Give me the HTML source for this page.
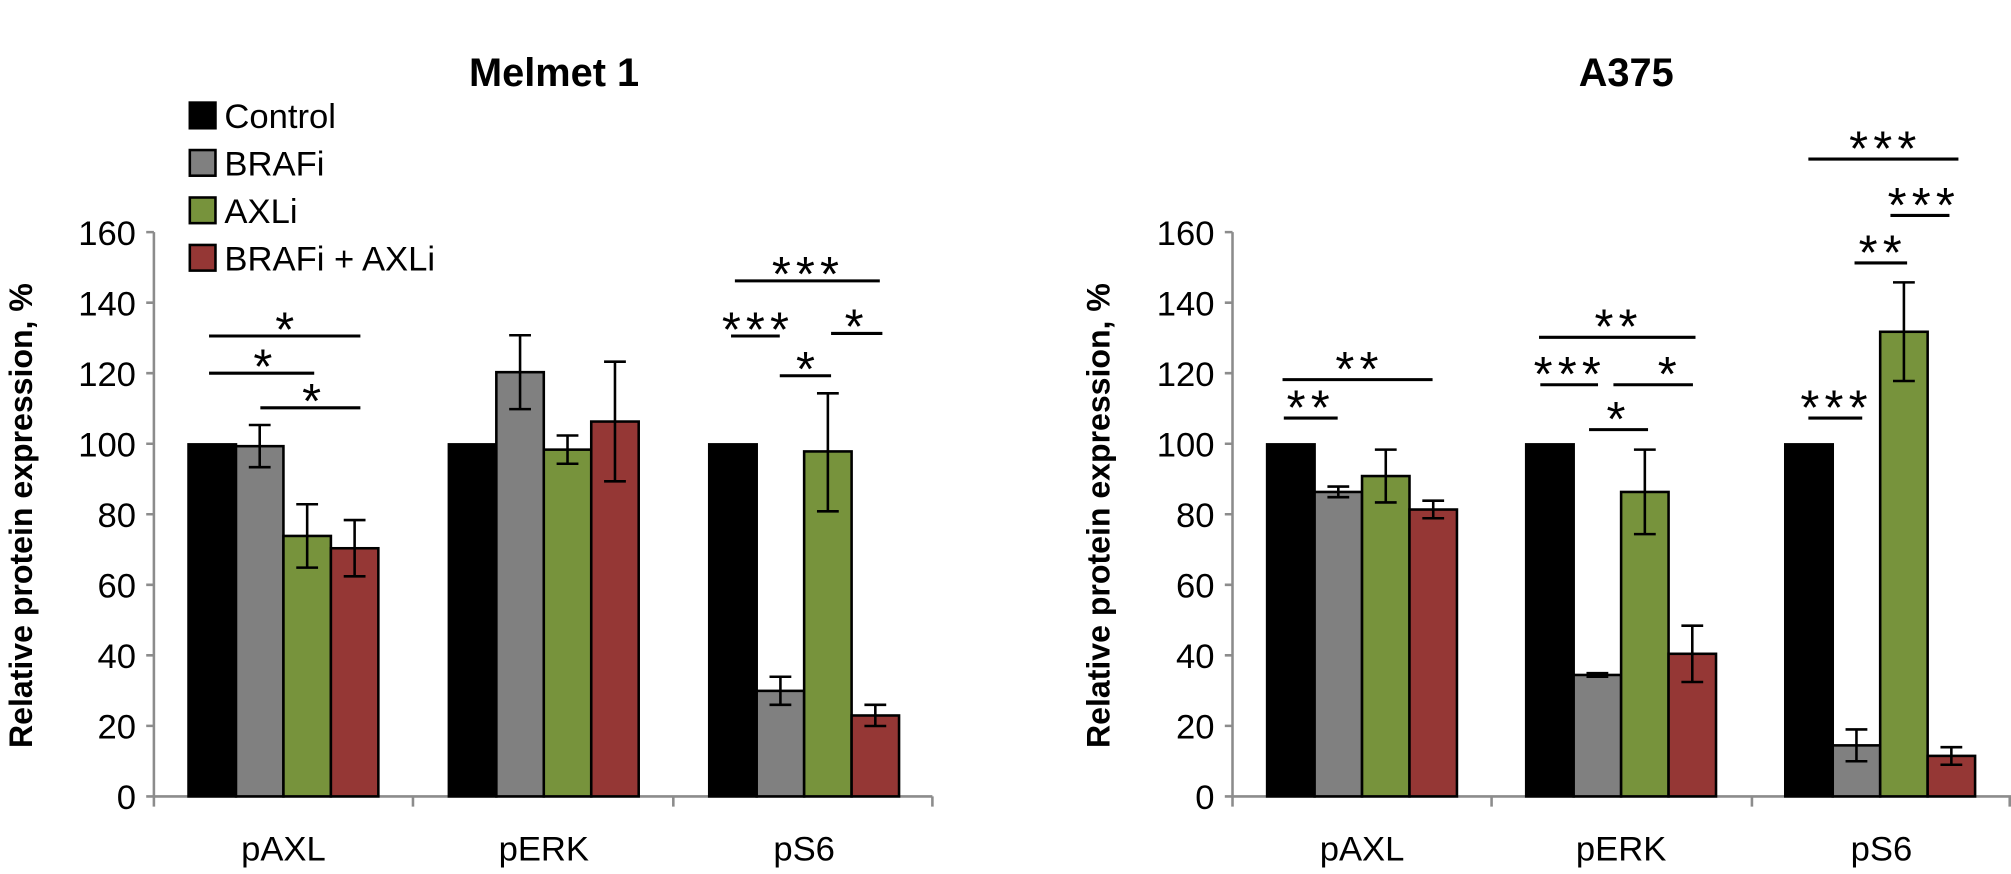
<!DOCTYPE html>
<html><head><meta charset="utf-8"><style>
html,body{margin:0;padding:0;background:#fff;}
svg{display:block;}
text{font-family:"Liberation Sans",sans-serif;fill:#000;}
.t{font-size:27px;}
.l{font-size:27px;}
.a{font-size:38px;letter-spacing:4px;}
.b{stroke:#000;stroke-width:2;}
.e{stroke:#000;stroke-width:2;fill:none;}
.s{stroke:#000;stroke-width:2.4;}
.ax{stroke:#8c8c8c;stroke-width:2;fill:none;}
</style></head><body>
<svg width="2011" height="874" viewBox="0 0 1568 681.5" preserveAspectRatio="none">
<!-- LEFT CHART -->
<text x="432" y="67" text-anchor="middle" font-weight="bold" font-size="31">Melmet 1</text>
<rect x="148" y="80" width="20" height="20" fill="#000" stroke="#000" stroke-width="2"/>
<text x="175" y="100" class="l">Control</text>
<rect x="148" y="117" width="20" height="20" fill="#808080" stroke="#000" stroke-width="2"/>
<text x="175" y="137" class="l">BRAFi</text>
<rect x="148" y="154" width="20" height="20" fill="#77933c" stroke="#000" stroke-width="2"/>
<text x="175" y="174" class="l">AXLi</text>
<rect x="148" y="191" width="20" height="20" fill="#953735" stroke="#000" stroke-width="2"/>
<text x="175" y="211" class="l">BRAFi + AXLi</text>

<path class="ax" d="M120 181V621M114 181H120M114 236H120M114 291H120M114 346H120M114 401H120M114 456H120M114 511H120M114 566H120M114 621H727M120 621V629M322 621V629M525 621V629M727 621V629"/>
<g class="t" text-anchor="end">
<text x="106" y="191">160</text><text x="106" y="246">140</text><text x="106" y="301">120</text><text x="106" y="356">100</text>
<text x="106" y="411">80</text><text x="106" y="466">60</text><text x="106" y="521">40</text><text x="106" y="576">20</text><text x="106" y="631">0</text>
</g>
<text transform="translate(25,402) rotate(-90)" text-anchor="middle" font-weight="bold" font-size="25">Relative protein expression, %</text>
<g class="t" text-anchor="middle"><text x="221" y="671">pAXL</text><text x="424" y="671">pERK</text><text x="627" y="671">pS6</text></g>

<g class="b">
<rect x="147" y="346.5" width="37" height="274.5" fill="#000"/>
<rect x="184" y="347.9" width="37" height="273.1" fill="#808080"/>
<rect x="221" y="417.9" width="37" height="203.1" fill="#77933c"/>
<rect x="258" y="427.5" width="37" height="193.5" fill="#953735"/>
<rect x="350" y="346.5" width="37" height="274.5" fill="#000"/>
<rect x="387" y="290.2" width="37" height="330.8" fill="#808080"/>
<rect x="424" y="350.6" width="37" height="270.4" fill="#77933c"/>
<rect x="461" y="328.7" width="37" height="292.3" fill="#953735"/>
<rect x="553" y="346.5" width="37" height="274.5" fill="#000"/>
<rect x="590" y="538.7" width="37" height="82.3" fill="#808080"/>
<rect x="627" y="352" width="37" height="269" fill="#77933c"/>
<rect x="664" y="557.9" width="37" height="63.1" fill="#953735"/>
</g>
<path class="e" d="M202.5 331.4V364.3M194 331.4H211M194 364.3H211
M239.5 393.2V442.6M231 393.2H248M231 442.6H248
M276.5 405.5V449.4M268 405.5H285M268 449.4H285
M405.5 261.4V319M397 261.4H414M397 319H414
M442.5 339.6V361.6M434 339.6H451M434 361.6H451
M479.5 282V375.3M471 282H488M471 375.3H488
M608.5 527.7V549.6M600 527.7H617M600 549.6H617
M645.5 306.7V398.7M637 306.7H654M637 398.7H654
M682.5 549.6V566.1M674 549.6H691M674 566.1H691"/>
<path class="s" d="M163 262H281M163 291H245M203 318H281M573 219H686M570 262H608M648 260H688M608 293H648"/>
<g class="a" text-anchor="middle">
<text x="224" y="270">*</text><text x="207" y="299">*</text><text x="245" y="326">*</text>
<text x="630" y="227">***</text><text x="591" y="270">***</text><text x="668" y="268">*</text><text x="630" y="301">*</text>
</g>

<!-- RIGHT CHART -->
<text x="1268" y="67" text-anchor="middle" font-weight="bold" font-size="31">A375</text>
<path class="ax" d="M961 181V621M955 181H961M955 236H961M955 291H961M955 346H961M955 401H961M955 456H961M955 511H961M955 566H961M955 621H1568M961 621V629M1163 621V629M1366 621V629M1567 621V629"/>
<g class="t" text-anchor="end">
<text x="947" y="191">160</text><text x="947" y="246">140</text><text x="947" y="301">120</text><text x="947" y="356">100</text>
<text x="947" y="411">80</text><text x="947" y="466">60</text><text x="947" y="521">40</text><text x="947" y="576">20</text><text x="947" y="631">0</text>
</g>
<text transform="translate(865,402) rotate(-90)" text-anchor="middle" font-weight="bold" font-size="25">Relative protein expression, %</text>
<g class="t" text-anchor="middle"><text x="1062" y="671">pAXL</text><text x="1264" y="671">pERK</text><text x="1467" y="671">pS6</text></g>

<g class="b">
<rect x="988" y="346.5" width="37" height="274.5" fill="#000"/>
<rect x="1025" y="383.6" width="37" height="237.4" fill="#808080"/>
<rect x="1062" y="371.2" width="37" height="249.8" fill="#77933c"/>
<rect x="1099" y="397.3" width="37" height="223.7" fill="#953735"/>
<rect x="1190" y="346.5" width="37" height="274.5" fill="#000"/>
<rect x="1227" y="526.3" width="37" height="94.7" fill="#808080"/>
<rect x="1264" y="383.6" width="37" height="237.4" fill="#77933c"/>
<rect x="1301" y="509.8" width="37" height="111.2" fill="#953735"/>
<rect x="1392" y="346.5" width="37" height="274.5" fill="#000"/>
<rect x="1429" y="581.2" width="37" height="39.8" fill="#808080"/>
<rect x="1466" y="258.7" width="37" height="362.3" fill="#77933c"/>
<rect x="1503" y="589.4" width="37" height="31.6" fill="#953735"/>
</g>
<path class="e" d="M1043.5 379.4V387.7M1035 379.4H1052M1035 387.7H1052
M1080.5 350.6V391.8M1072 350.6H1089M1072 391.8H1089
M1117.5 390.4V404.1M1109 390.4H1126M1109 404.1H1126
M1245.5 524.9V527.7M1237 524.9H1254M1237 527.7H1254
M1282.5 350.6V416.5M1274 350.6H1291M1274 416.5H1291
M1319.5 487.9V531.8M1311 487.9H1328M1311 531.8H1328
M1447.5 568.8V593.6M1439 568.8H1456M1439 593.6H1456
M1484.5 220.2V297.1M1476 220.2H1493M1476 297.1H1493
M1521.5 582.6V596.3M1513 582.6H1530M1513 596.3H1530"/>
<path class="s" d="M1000 296H1117M1001 326H1043M1200 263H1322M1201 300H1246M1258 300H1320M1239 335H1285M1410 124H1527M1474 168H1520M1446 205H1487M1410 326H1452"/>
<g class="a" text-anchor="middle">
<text x="1060" y="301">**</text><text x="1022" y="331">**</text>
<text x="1262" y="268">**</text><text x="1224" y="305">***</text><text x="1302" y="305">*</text><text x="1262" y="340">*</text>
<text x="1470" y="129">***</text><text x="1500" y="173">***</text><text x="1468" y="210">**</text><text x="1432" y="331">***</text>
</g>
</svg>
</body></html>
